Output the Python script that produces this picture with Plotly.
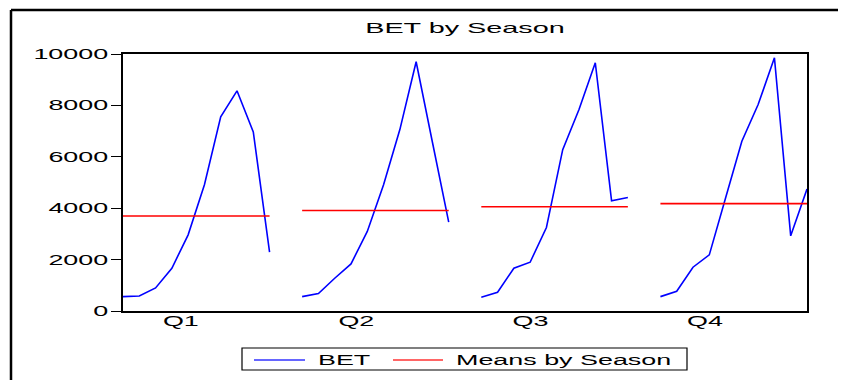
import numpy as np
import plotly.graph_objects as go

# ---- data -------------------------------------------------------------
seasons = ["Q1", "Q2", "Q3", "Q4"]
bet_q1 = [559, 585, 897, 1664, 2964, 4914, 7553, 8567, 6968, 2288]
bet_q2 = [559, 676, 1274, 1833, 3094, 4914, 7059, 9698, 6565, 3458]
bet_q3 = [533, 728, 1664, 1898, 3250, 6279, 7840, 9659, 4290, 4420]
bet_q4 = [559, 767, 1703, 2184, 4394, 6604, 8034, 9854, 2925, 4745]
y_ticks = [0, 2000, 4000, 6000, 8000, 10000]

blocks = [bet_q1, bet_q2, bet_q3, bet_q4]

# ---- layout constants (pixels) -----------------------------------------
W, H = 846, 380
ML, MR, MT, MB = 123, 39, 54, 69
PW, PH = W - ML - MR, H - MT - MB
FONT = "Liberation Sans, Arial, sans-serif"
label_pos = [3.55, 14.33, 25.02, 35.73]   # x positions of season labels


def px_x(px):
    return (px - ML) / PW


def px_y(py):
    return (H - MB - py) / PH


# ---- series: each season is a run of observations, one empty slot apart --
n = len(bet_q1)
step = n + 1
bx, by, mx, my = [], [], [], []
for i, vals in enumerate(blocks):
    start = i * step
    bx += list(range(start, start + n)) + [start + n]
    by += list(vals) + [None]
    m = float(np.mean(vals))
    mx += [start, start + n - 1, start + n]
    my += [m, m, None]

fig = go.Figure()
fig.add_trace(go.Scatter(x=bx, y=by, mode="lines", name="BET",
                         line=dict(color="#0000FF", width=1.6),
                         connectgaps=False, showlegend=False))
fig.add_trace(go.Scatter(x=mx, y=my, mode="lines", name="Means by Season",
                         line=dict(color="#FF0000", width=1.6),
                         connectgaps=False, showlegend=False))

axis_common = dict(showgrid=False, zeroline=False, showline=True,
                   linecolor="black", linewidth=2, mirror=True,
                   tickfont=dict(family=FONT, size=14, color="black"))

fig.update_xaxes(range=[0, (len(blocks) - 1) * step + n - 1],
                 tickmode="array", tickvals=label_pos, ticktext=seasons,
                 ticks="", ticklabelstandoff=-4, **axis_common)
fig.update_yaxes(range=[0, 10000], tickmode="array", tickvals=y_ticks,
                 tickformat="d", ticks="outside", ticklen=10, tickwidth=1.2,
                 tickcolor="black", **axis_common)

# ---- outer frame and legend box ------------------------------------------
shapes = [
    dict(type="line", xref="paper", yref="paper",
         x0=px_x(11), x1=px_x(11), y0=px_y(382), y1=px_y(10),
         line=dict(color="black", width=2.5)),
    dict(type="line", xref="paper", yref="paper",
         x0=px_x(11), x1=px_x(838), y0=px_y(10), y1=px_y(10),
         line=dict(color="black", width=2.5)),
    dict(type="rect", xref="paper", yref="paper",
         x0=px_x(242), x1=px_x(687), y0=px_y(370), y1=px_y(348),
         line=dict(color="black", width=1.2), fillcolor="white"),
    dict(type="line", xref="paper", yref="paper",
         x0=px_x(254), x1=px_x(305), y0=px_y(360), y1=px_y(360),
         line=dict(color="#3333FF", width=1.6)),
    dict(type="line", xref="paper", yref="paper",
         x0=px_x(393), x1=px_x(443), y0=px_y(360), y1=px_y(360),
         line=dict(color="#FF3333", width=1.6)),
]

annotations = [
    dict(text="BET", xref="paper", yref="paper", x=px_x(316), y=px_y(360),
         xanchor="left", yanchor="middle", align="left", showarrow=False,
         font=dict(family=FONT, size=14, color="black")),
    dict(text="Means by Season", xref="paper", yref="paper", x=px_x(454),
         y=px_y(360), xanchor="left", yanchor="middle", align="left",
         showarrow=False, font=dict(family=FONT, size=14, color="black")),
]

fig.update_layout(
    width=W, height=H, autosize=False,
    margin=dict(l=ML, r=MR, t=MT, b=MB, pad=0),
    paper_bgcolor="white", plot_bgcolor="white",
    title=dict(text="BET by Season", x=0.5, xref="paper", xanchor="center",
               y=1 - 28 / H, yref="container", yanchor="middle",
               font=dict(family=FONT, size=15, color="black")),
    shapes=shapes, annotations=annotations,
    showlegend=False,
)

# widen every label horizontally to the broad lettering of the chart
stretch_js = """
var gd = document.getElementById('{plot_id}');
gd.querySelectorAll('svg text').forEach(function (t) {
  var w = t.getComputedTextLength();
  if (w > 0) {
    t.setAttribute('textLength', (w * 1.92).toFixed(1));
    t.setAttribute('lengthAdjust', 'spacingAndGlyphs');
  }
});
"""

fig.write_html("out.html", config={"displayModeBar": False},
               post_script=stretch_js)
